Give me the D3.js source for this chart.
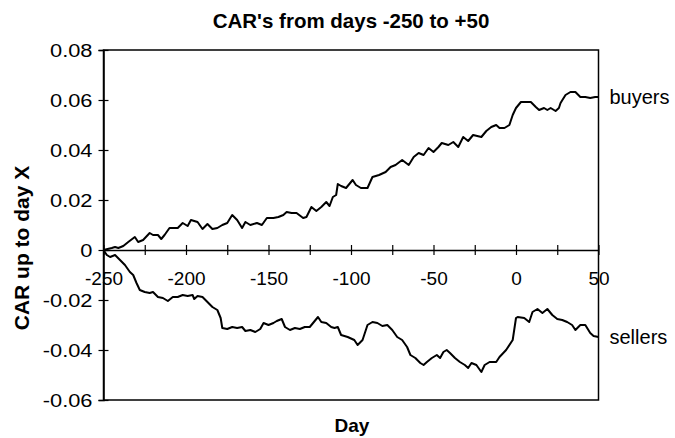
<!DOCTYPE html>
<html>
<head>
<meta charset="utf-8">
<script src="https://cdnjs.cloudflare.com/ajax/libs/d3/7.8.5/d3.min.js"></script>
<style>
  body { margin: 0; background: #fff; }
  text { font-family: "Liberation Sans", Arial, sans-serif; fill: #000; }
</style>
</head>
<body>
<div id="chart"></div>
<script>
// CAR data (day, cumulative abnormal return)
var buyersDays = [-250, -245, -243, -241, -238, -235, -231, -229, -226, -222, -220, -217, -215, -213, -210, -205, -202, -199, -197, -193,
    -190, -187, -184, -181, -178, -175, -172, -169, -166, -164, -161, -157, -154, -151, -147, -144, -141, -139, -136, -133,
    -129, -127, -124, -121, -118, -115, -113, -111, -109, -108, -106, -103, -99, -97, -94, -90, -87, -83, -79, -76,
    -73, -69, -65, -62, -59, -56, -53, -50, -47, -45, -41, -38, -35, -32, -29, -26, -21, -18, -15, -12,
    -10, -7, -4, -2, 0, 3, 6, 9, 12, 14, 17, 19, 21, 24, 26, 27, 30, 33, 36, 39,
    42, 45, 48, 50];
var buyersCar = [0, 0.0008, 0.0012, 0.0008, 0.0016, 0.0032, 0.0052, 0.0032, 0.004, 0.0068, 0.006, 0.006, 0.0044, 0.006, 0.0088, 0.0088, 0.0108, 0.0096, 0.012, 0.0112,
    0.0084, 0.0104, 0.0084, 0.0088, 0.010, 0.0108, 0.014, 0.012, 0.0088, 0.0112, 0.010, 0.0108, 0.010, 0.0128, 0.0128, 0.0132, 0.014, 0.0152, 0.0148, 0.0148,
    0.0128, 0.0132, 0.0172, 0.0156, 0.0172, 0.0192, 0.0176, 0.0212, 0.022, 0.0264, 0.0256, 0.0248, 0.028, 0.026, 0.0248, 0.0248, 0.0292, 0.030, 0.0312, 0.0332,
    0.034, 0.036, 0.034, 0.0372, 0.0388, 0.038, 0.0408, 0.0392, 0.0412, 0.0428, 0.042, 0.0432, 0.0412, 0.0452, 0.0436, 0.046, 0.0452, 0.0476, 0.0492, 0.050,
    0.0488, 0.0488, 0.050, 0.054, 0.0568, 0.0592, 0.0592, 0.0592, 0.0572, 0.056, 0.0568, 0.056, 0.0568, 0.0556, 0.0568, 0.0588, 0.062, 0.0632, 0.0632, 0.0612,
    0.0612, 0.0608, 0.0612, 0.0612];

var sellersDays = [-250, -248, -246, -243, -240, -237, -234, -232, -230, -228, -225, -222, -220, -217, -214, -211, -208, -205, -202, -199,
    -196, -195, -193, -190, -187, -184, -181, -179, -178, -175, -172, -169, -166, -164, -161, -158, -155, -153, -150, -147,
    -145, -142, -140, -137, -134, -131, -128, -125, -123, -120, -118, -115, -112, -110, -108, -106, -102, -98, -96, -93,
    -90, -87, -84, -81, -78, -75, -72, -69, -66, -64, -61, -58, -56, -54, -51, -48, -46, -44, -42, -40,
    -37, -34, -31, -29, -27, -24, -21, -19, -16, -12, -10, -6, -2, 0, 1, 5, 8, 10, 13, 16,
    19, 22, 25, 28, 31, 34, 36, 39, 42, 45, 47, 50];
var sellersCar = [0, -0.002, -0.0028, -0.002, -0.004, -0.006, -0.0088, -0.010, -0.0132, -0.016, -0.0168, -0.0172, -0.0168, -0.0188, -0.0192, -0.0204, -0.0188, -0.0188, -0.018, -0.0184,
    -0.018, -0.0196, -0.0184, -0.0188, -0.0208, -0.0228, -0.024, -0.0272, -0.0312, -0.0316, -0.0308, -0.0312, -0.0308, -0.0324, -0.032, -0.0328, -0.0316, -0.0292, -0.030, -0.0292,
    -0.0284, -0.0276, -0.0308, -0.032, -0.0312, -0.0316, -0.0308, -0.0308, -0.0292, -0.0268, -0.0288, -0.0292, -0.0308, -0.0312, -0.0308, -0.034, -0.0348, -0.036, -0.038, -0.036,
    -0.030, -0.0288, -0.0292, -0.0304, -0.030, -0.032, -0.0348, -0.036, -0.0388, -0.042, -0.0432, -0.0452, -0.046, -0.0448, -0.0432, -0.042, -0.0432, -0.0408, -0.040, -0.0412,
    -0.0432, -0.0448, -0.046, -0.0472, -0.0452, -0.046, -0.0488, -0.046, -0.0448, -0.0448, -0.0428, -0.040, -0.036, -0.0272, -0.0268, -0.0272, -0.0288, -0.0248, -0.0236, -0.0252,
    -0.0236, -0.026, -0.0276, -0.028, -0.0288, -0.030, -0.032, -0.030, -0.030, -0.0332, -0.0344, -0.0348];

var xTicks = [-250, -225, -200, -175, -150, -125, -100, -75, -50, -25, 0, 25, 50];
var yTicks = [0.08, 0.06, 0.04, 0.02, 0, -0.02, -0.04, -0.06];
var yTickLabels = ["0.08", "0.06", "0.04", "0.02", "0", "-0.02", "-0.04", "-0.06"];

var svgWidth = 675;
var svgHeight = 438;

var chartMargin = {
    top: 50,
    right: 76.5,
    left: 103.5,
    bottom: 38};

var chartWidth = svgWidth - chartMargin.left - chartMargin.right;
var chartHeight = svgHeight - chartMargin.top - chartMargin.bottom;

var svg = d3.select("#chart")
    .append("svg")
    .attr("width", svgWidth)
    .attr("height", svgHeight);

var chartGroup = svg.append("g")
    .attr("transform", `translate(${chartMargin.left}, ${chartMargin.top})`);

var xScale = d3.scaleLinear().domain([-250, 50]).range([0, chartWidth]);
var yScale = d3.scaleLinear().domain([-0.06, 0.08]).range([chartHeight, 0]);

// plot area border
chartGroup.append("rect")
    .attr("x", 0)
    .attr("y", 0)
    .attr("width", chartWidth)
    .attr("height", chartHeight)
    .attr("fill", "none")
    .attr("stroke", "#000")
    .attr("stroke-width", 1.5);

// y axis, ticks cross the line
var leftAxis = d3.axisLeft(yScale)
    .tickValues(yTicks)
    .tickFormat((d, i) => yTickLabels[i])
    .tickSize(5);

var yAxis = chartGroup.append("g").call(leftAxis);
yAxis.select(".domain").attr("stroke-width", 1.5);
yAxis.selectAll(".tick line").attr("x1", 5).attr("x2", -5).attr("stroke-width", 1.2);
// labels in the picture are a bit wider than Arial, so stretch them sideways
yAxis.selectAll(".tick text")
    .attr("x", -11 / 1.15)
    .attr("transform", "scale(1.15, 1)")
    .style("font-size", "19px")
    .style("font-family", "Liberation Sans, Arial, sans-serif");

// x axis drawn through zero
var bottomAxis = d3.axisBottom(xScale)
    .tickValues(xTicks)
    .tickFormat(d => (d % 50 === 0 ? d : ""))
    .tickSizeOuter(0);

var xAxis = chartGroup.append("g")
    .attr("transform", `translate(0, ${yScale(0)})`)
    .call(bottomAxis);
xAxis.select(".domain").attr("stroke-width", 1.5);
xAxis.selectAll(".tick line").attr("y1", -5).attr("y2", 5).attr("stroke-width", 1.2);
xAxis.selectAll(".tick text")
    .attr("y", 22)
    .style("font-size", "19px")
    .style("font-family", "Liberation Sans, Arial, sans-serif");

// the two CAR lines
var line = d3.line()
    .x(d => xScale(d[0]))
    .y(d => yScale(d[1]));

var buyers = buyersDays.map((d, i) => [d, buyersCar[i]]);
var sellers = sellersDays.map((d, i) => [d, sellersCar[i]]);

chartGroup.selectAll(".carLine")
    .data([buyers, sellers])
    .enter()
    .append("path")
    .attr("class", "carLine")
    .attr("d", line)
    .attr("fill", "none")
    .attr("stroke", "#000")
    .attr("stroke-width", 2)
    .attr("stroke-linejoin", "round");

// series labels at the right end
chartGroup.append("text")
    .attr("x", chartWidth + 11)
    .attr("y", yScale(buyersCar[buyersCar.length - 1]) + 7)
    .style("font-size", "20px")
    .text("buyers");

chartGroup.append("text")
    .attr("x", chartWidth + 11)
    .attr("y", yScale(sellersCar[sellersCar.length - 1]) + 7)
    .style("font-size", "20px")
    .text("sellers");

// titles
svg.append("text")
    .attr("x", 351)
    .attr("y", 28)
    .attr("text-anchor", "middle")
    .style("font-size", "20.5px")
    .style("font-weight", "bold")
    .text("CAR's from days -250 to +50");

svg.append("text")
    .attr("x", 352)
    .attr("y", 432)
    .attr("text-anchor", "middle")
    .style("font-size", "19px")
    .style("font-weight", "bold")
    .text("Day");

svg.append("text")
    .attr("transform", "translate(29, 248) rotate(-90)")
    .attr("text-anchor", "middle")
    .style("font-size", "21px")
    .style("font-weight", "bold")
    .text("CAR up to day X");
</script>
</body>
</html>
